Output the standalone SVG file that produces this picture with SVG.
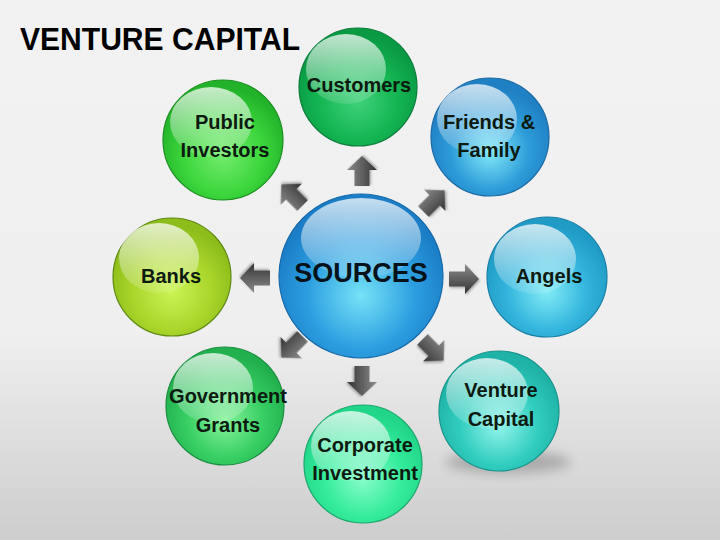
<svg xmlns="http://www.w3.org/2000/svg" xmlns:xlink="http://www.w3.org/1999/xlink" width="720" height="540" viewBox="0 0 720 540">
<style>
.lbl{font-family:"Liberation Sans",Arial,sans-serif;font-weight:bold;font-size:20px;fill:#0d1a10;text-anchor:middle}
.src{font-family:"Liberation Sans",Arial,sans-serif;font-weight:bold;font-size:27px;fill:#06121a;text-anchor:middle}
.title{font-family:"Liberation Sans",Arial,sans-serif;font-weight:bold;font-size:31px;fill:#000}
.hl{fill:url(#hl)}
.ball{stroke-width:1.2}
</style>
<defs>
<linearGradient id="bg" x1="0" y1="0" x2="0" y2="1">
<stop offset="0" stop-color="#f2f2f2"/>
<stop offset="0.62" stop-color="#efefef"/>
<stop offset="1" stop-color="#cdcdcd"/>
</linearGradient>
<linearGradient id="hl" x1="0" y1="0" x2="0" y2="1">
<stop offset="0" stop-color="#fff" stop-opacity="0.75"/>
<stop offset="1" stop-color="#fff" stop-opacity="0.12"/>
</linearGradient>
<linearGradient id="ag" gradientUnits="userSpaceOnUse" x1="0" y1="-15" x2="0" y2="15">
<stop offset="0" stop-color="#8c8c8c"/>
<stop offset="1" stop-color="#333"/>
</linearGradient>
<filter id="ds" x="-30%" y="-30%" width="160%" height="160%">
<feDropShadow dx="1" dy="1.5" stdDeviation="1" flood-color="#000" flood-opacity="0.3"/>
</filter>
<filter id="blur" x="-50%" y="-100%" width="200%" height="300%">
<feGaussianBlur stdDeviation="6"/>
</filter>
<path id="arr" d="M-15,-7.5 H1 V-15 L15,0 L1,15 V7.5 H-15 Z" fill="url(#ag)" filter="url(#ds)"/>
<radialGradient id="gCust" cx="0.5" cy="0.62" r="0.55"><stop offset="0" stop-color="#3fd27a"/><stop offset="0.6" stop-color="#14b552"/><stop offset="1" stop-color="#0a9a44"/></radialGradient>
<radialGradient id="gPub" cx="0.5" cy="0.62" r="0.55"><stop offset="0" stop-color="#74ec6e"/><stop offset="0.6" stop-color="#3cd63c"/><stop offset="1" stop-color="#22b32a"/></radialGradient>
<radialGradient id="gFri" cx="0.5" cy="0.62" r="0.55"><stop offset="0" stop-color="#84eaf8"/><stop offset="0.6" stop-color="#2d9cd9"/><stop offset="1" stop-color="#1f80c3"/></radialGradient>
<radialGradient id="gBank" cx="0.5" cy="0.62" r="0.55"><stop offset="0" stop-color="#cbf455"/><stop offset="0.6" stop-color="#aad52b"/><stop offset="1" stop-color="#8cbd1a"/></radialGradient>
<radialGradient id="gSrc" cx="0.5" cy="0.62" r="0.55"><stop offset="0" stop-color="#76e2f7"/><stop offset="0.6" stop-color="#2c9ee0"/><stop offset="1" stop-color="#1a7dc6"/></radialGradient>
<radialGradient id="gAng" cx="0.5" cy="0.62" r="0.55"><stop offset="0" stop-color="#82ecf6"/><stop offset="0.6" stop-color="#33b5dd"/><stop offset="1" stop-color="#1f9bc6"/></radialGradient>
<radialGradient id="gVC" cx="0.5" cy="0.62" r="0.55"><stop offset="0" stop-color="#95f4ea"/><stop offset="0.6" stop-color="#30cdbf"/><stop offset="1" stop-color="#1fb2a7"/></radialGradient>
<radialGradient id="gGov" cx="0.5" cy="0.62" r="0.55"><stop offset="0" stop-color="#86f29a"/><stop offset="0.6" stop-color="#36ce63"/><stop offset="1" stop-color="#22b04e"/></radialGradient>
<radialGradient id="gCorp" cx="0.5" cy="0.62" r="0.55"><stop offset="0" stop-color="#88fccb"/><stop offset="0.6" stop-color="#34ec9b"/><stop offset="1" stop-color="#22d689"/></radialGradient>
</defs>

<rect x="0" y="0" width="720" height="540" fill="url(#bg)"/>
<text class="title" x="20" y="50" textLength="280" lengthAdjust="spacingAndGlyphs">VENTURE CAPITAL</text>

<ellipse cx="508" cy="462" rx="62" ry="11" fill="#000" opacity="0.22" filter="url(#blur)"/>

<g id="connectors">
<use xlink:href="#arr" href="#arr" transform="translate(362,171) rotate(-90)"/>
<use xlink:href="#arr" href="#arr" transform="translate(292,195) rotate(-135)"/>
<use xlink:href="#arr" href="#arr" transform="translate(434,201) rotate(-45)"/>
<use xlink:href="#arr" href="#arr" transform="translate(255,278) rotate(180)"/>
<use xlink:href="#arr" href="#arr" transform="translate(464,279)"/>
<use xlink:href="#arr" href="#arr" transform="translate(292,347) rotate(135)"/>
<use xlink:href="#arr" href="#arr" transform="translate(362,381) rotate(90)"/>
<use xlink:href="#arr" href="#arr" transform="translate(433,350) rotate(45)"/>
</g>

<g id="customers">
<circle class="ball" cx="358" cy="87" r="59" fill="url(#gCust)" stroke="#0a7e3a"/>
<ellipse class="hl" cx="346" cy="69" rx="40" ry="35"/>
<text class="lbl" x="359" y="92">Customers</text>
</g>

<g id="public-investors">
<circle class="ball" cx="223" cy="140" r="60" fill="url(#gPub)" stroke="#1c8f22"/>
<ellipse class="hl" cx="211" cy="122" rx="41" ry="35"/>
<text class="lbl" x="225" y="129">Public</text>
<text class="lbl" x="225" y="157">Investors</text>
</g>

<g id="friends-family">
<circle class="ball" cx="490" cy="137" r="59" fill="url(#gFri)" stroke="#1a6aa6"/>
<ellipse class="hl" cx="477" cy="119" rx="40" ry="35"/>
<text class="lbl" x="489" y="129">Friends &amp;</text>
<text class="lbl" x="489" y="157">Family</text>
</g>

<g id="banks">
<circle class="ball" cx="172" cy="277" r="59" fill="url(#gBank)" stroke="#5f8a12"/>
<ellipse class="hl" cx="159" cy="258" rx="40" ry="35"/>
<text class="lbl" x="171" y="283">Banks</text>
</g>

<g id="sources">
<circle class="ball" cx="361" cy="276" r="82" fill="url(#gSrc)" stroke="#176aa8" stroke-width="1.5"/>
<ellipse class="hl" cx="361" cy="238" rx="60" ry="40"/>
<text class="src" x="361" y="282">SOURCES</text>
</g>

<g id="angels">
<circle class="ball" cx="547" cy="277" r="60" fill="url(#gAng)" stroke="#1a80a6"/>
<ellipse class="hl" cx="535" cy="259" rx="41" ry="35"/>
<text class="lbl" x="549" y="283">Angels</text>
</g>

<g id="venture-capital">
<circle class="ball" cx="499" cy="411" r="60" fill="url(#gVC)" stroke="#17948b"/>
<ellipse class="hl" cx="487" cy="393" rx="41" ry="35"/>
<text class="lbl" x="501" y="397">Venture</text>
<text class="lbl" x="501" y="426">Capital</text>
</g>

<g id="government-grants">
<circle class="ball" cx="225" cy="406" r="59" fill="url(#gGov)" stroke="#1b8f40"/>
<ellipse class="hl" cx="213" cy="388" rx="40" ry="35"/>
<text class="lbl" x="228" y="403">Government</text>
<text class="lbl" x="228" y="432">Grants</text>
</g>

<g id="corporate-investment">
<circle class="ball" cx="363" cy="464" r="59" fill="url(#gCorp)" stroke="#1aa86c"/>
<ellipse class="hl" cx="351" cy="446" rx="40" ry="35"/>
<text class="lbl" x="365" y="452">Corporate</text>
<text class="lbl" x="365" y="480">Investment</text>
</g>
</svg>
